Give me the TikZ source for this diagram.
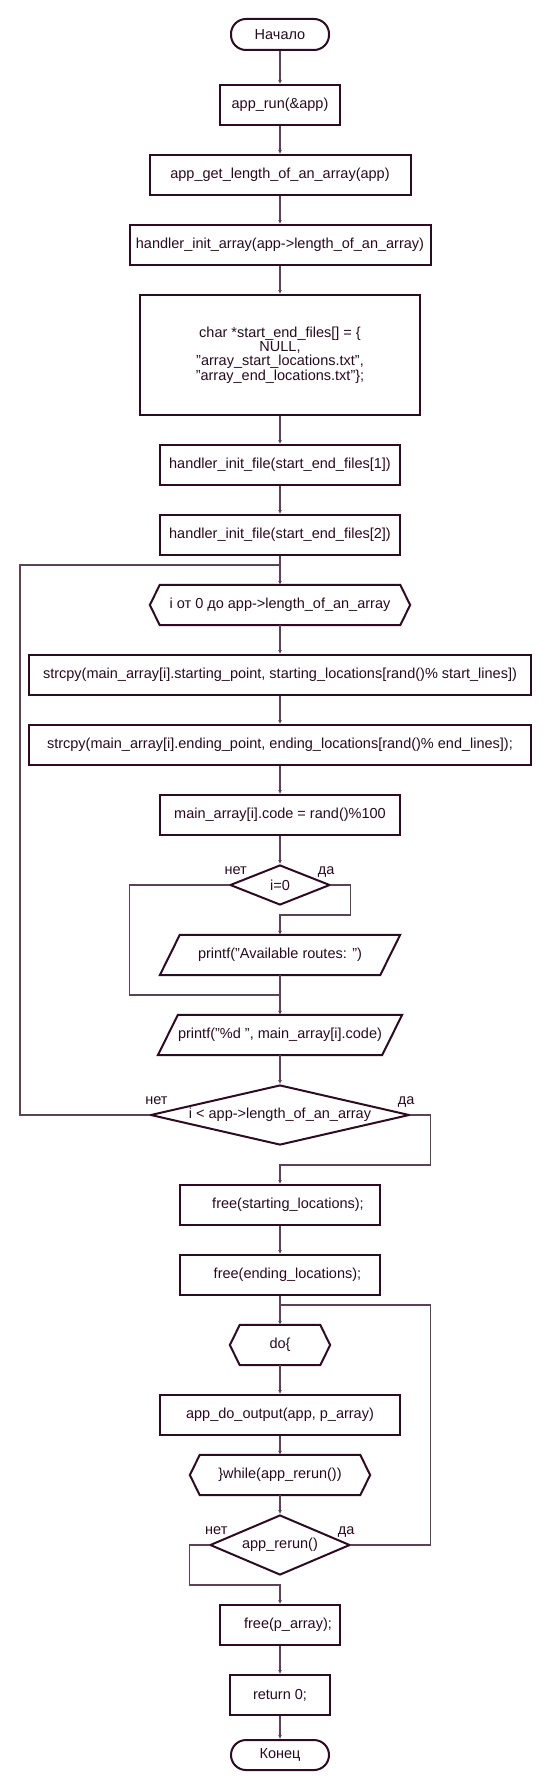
\documentclass[tikz,border=0pt]{standalone}
\usepackage{fontspec}
\setmainfont{Liberation Sans}
\usetikzlibrary{shapes.geometric,arrows.meta}
\definecolor{bd}{RGB}{45,12,35}
\definecolor{ln}{RGB}{92,66,88}
\definecolor{tx}{RGB}{40,10,30}
\begin{document}
\begin{tikzpicture}[x=1pt,y=-1pt,
  every node/.style={font=\fontsize{14.5}{14.3}\selectfont, text=tx},
  box/.style={draw=bd, line width=2pt, rectangle, inner sep=0pt, minimum height=40pt},
  term/.style={draw=bd, line width=2pt, rectangle, rounded corners=15pt, inner sep=0pt, minimum width=98pt},
  frame/.style={rectangle, inner sep=0pt, minimum height=40pt},
  outline/.style={draw=bd, line width=2pt, line join=miter},
  dec/.style={draw=bd, line width=2pt, diamond, inner sep=0pt},
  lab/.style={inner sep=0pt, text height=7pt, text depth=0pt},
  conn/.style={draw=ln, line width=1.4pt},
  arr/.style={conn, -{Latex[length=4pt,width=4pt]}}]
\useasboundingbox (0,0) rectangle (550,1790);

% nodes
\node[term, minimum height=31pt] (start) at (280,34.5) {Начало};
\node[box, minimum width=120pt] (n1) at (280,105) {app\_run(\&app)};
\node[box, minimum width=261pt] (n2) at (280,175) {app\_get\_length\_of\_an\_array(app)};
\node[box, minimum width=301pt] (n3) at (280,245) {handler\_init\_array(app->length\_of\_an\_array)};
\node[box, minimum width=280pt, minimum height=120pt, align=center] (n4) at (280,355)
  {char *start\_end\_files[] = \{\\NULL,\\"array\_start\_locations.txt",\\"array\_end\_locations.txt"\};};
\node[box, minimum width=240pt] (n5) at (280,465) {handler\_init\_file(start\_end\_files[1])};
\node[box, minimum width=240pt] (n6) at (280,535) {handler\_init\_file(start\_end\_files[2])};
\node[frame, minimum width=240pt] (h1) at (280,605) {i от 0 до app->length\_of\_an\_array};
\node[box, minimum width=502pt] (n7) at (280,675) {strcpy(main\_array[i].starting\_point, starting\_locations[rand()\% start\_lines])};
\node[box, minimum width=502pt] (n8) at (280,745) {strcpy(main\_array[i].ending\_point, ending\_locations[rand()\% end\_lines]);};
\node[box, minimum width=240pt] (n9) at (280,815) {main\_array[i].code = rand()\%100};
\node[dec, minimum width=100pt, minimum height=40pt, aspect=2.5] (d1) at (280,885) {i=0};
\node[frame, minimum width=200pt] (p1) at (280,955) {printf("Available routes: ")};
\node[frame, minimum width=200pt] (p2) at (280,1035) {printf("\%d ", main\_array[i].code)};
\node[dec, minimum width=259pt, minimum height=60pt, aspect=4.3] (d2) at (280,1115) {i < app->length\_of\_an\_array};
\node[box, minimum width=200pt] (n10) at (280,1205) {\hspace*{16pt}free(starting\_locations);};
\node[box, minimum width=200pt] (n11) at (280,1275) {\hspace*{15pt}free(ending\_locations);};
\node[frame, minimum width=80pt] (h2) at (280,1345) {do\{};
\node[box, minimum width=240pt] (n12) at (280,1415) {app\_do\_output(app, p\_array)};
\node[frame, minimum width=160pt] (h3) at (280,1475) {\}while(app\_rerun())};
\node[dec, minimum width=140pt, minimum height=60pt, aspect=2.33] (d3) at (280,1545) {app\_rerun()};
\node[box, minimum width=120pt] (n13) at (280,1625) {\hspace*{16pt}free(p\_array);};
\node[box, minimum width=100pt] (n14) at (280,1695) {return 0;};
\node[term, minimum height=30pt] (end) at (280,1755) {Конец};

% hexagons and parallelograms
\foreach \h in {h1,h2,h3}{
  \draw[outline] (\h.north west) -- (\h.north east) -- ([xshift=10pt]\h.east) -- (\h.south east)
    -- (\h.south west) -- ([xshift=-10pt]\h.west) -- cycle;
}
\foreach \p in {p1,p2}{
  \draw[outline] (\p.north west) -- ([xshift=20pt]\p.north east) -- (\p.south east)
    -- ([xshift=-20pt]\p.south west) -- cycle;
}

% labels
\node[lab] (l1) at (235.7,871) {нет};
\node[lab] (l2) at (326.2,871) {да};
\node[lab] (l3) at (156.5,1101) {нет};
\node[lab] (l4) at (406.2,1101) {да};
\node[lab] (l5) at (216.3,1531) {нет};
\node[lab] (l6) at (346.2,1531) {да};

% bend coordinates
\coordinate (j0) at (280,565);
\coordinate (b1) at (129.4,995);
\coordinate (j1) at (280,995);
\coordinate (b2) at (350.4,915);
\coordinate (b3) at (20,565);
\coordinate (b4) at (430.4,1165);
\coordinate (b5) at (430.4,1305);
\coordinate (j2) at (280,1305);
\coordinate (b6) at (189.4,1585);

% connectors
\draw[arr] (start) -- (n1);
\draw[arr] (n1) -- (n2);
\draw[arr] (n2) -- (n3);
\draw[arr] (n3) -- (n4);
\draw[arr] (n4) -- (n5);
\draw[arr] (n5) -- (n6);
\draw[arr] (n6.south) -- (h1.north);
\draw[arr] (h1.south) -- (n7.north);
\draw[arr] (n7) -- (n8);
\draw[arr] (n8) -- (n9);
\draw[arr] (n9.south) -- (d1.north);
\draw[conn] (d1.west) -| (b1) -- (j1);
\draw[arr] (d1.east) -| (b2) -| (p1.north);
\draw[arr] (p1.south) -- (p2.north);
\draw[arr] (p2.south) -- (d2.north);
\draw[conn] (d2.west) -| (b3) -- (j0);
\draw[arr] (d2.east) -| (b4) -| (n10.north);
\draw[arr] (n10) -- (n11);
\draw[arr] (n11.south) -- (h2.north);
\draw[arr] (h2.south) -- (n12.north);
\draw[arr] (n12.south) -- (h3.north);
\draw[arr] (h3.south) -- (d3.north);
\draw[conn] (d3.east) -| (b5) -- (j2);
\draw[arr] (d3.west) -| (b6) -| (n13.north);
\draw[arr] (n13) -- (n14);
\draw[arr] (n14.south) -- (end.north);
\end{tikzpicture}
\end{document}
